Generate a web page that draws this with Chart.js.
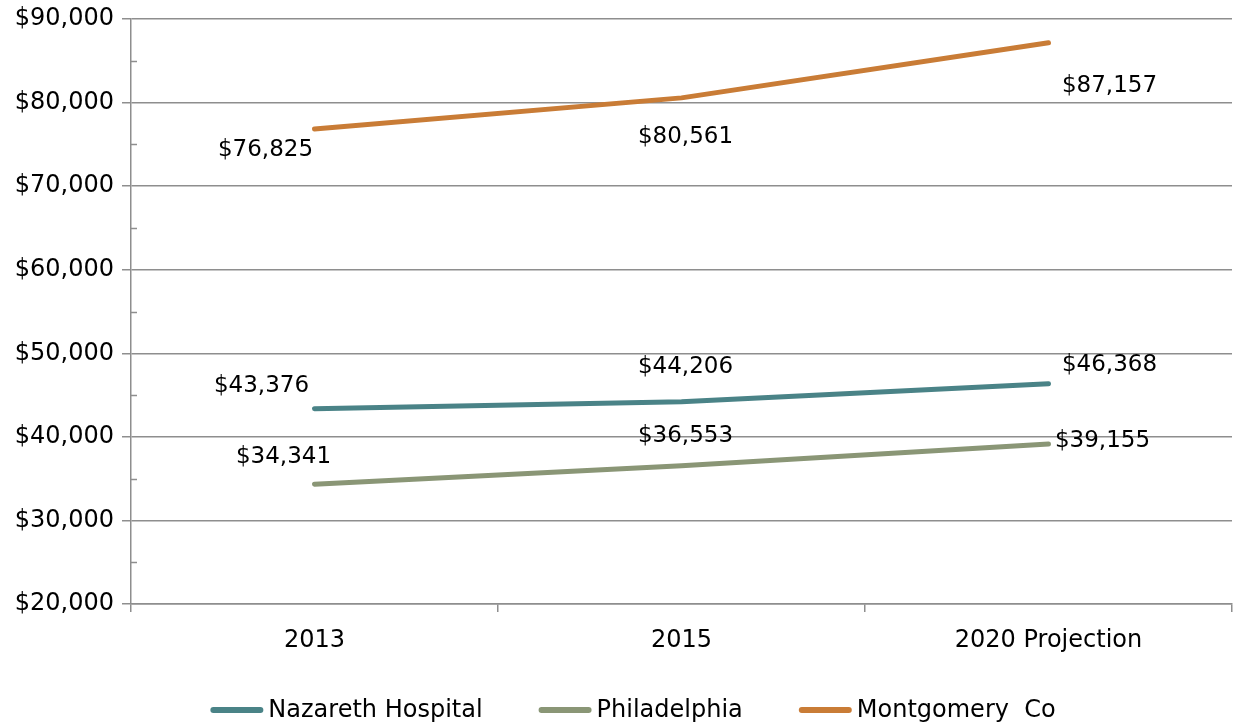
<!DOCTYPE html>
<html>
<head>
<meta charset="utf-8">
<script src="https://cdn.jsdelivr.net/npm/chart.js@4/dist/chart.umd.min.js"></script>
<style>
  html, body { margin: 0; padding: 0; background: #fff; }
  #wrap { width: 1237px; height: 725px; }
</style>
</head>
<body>
<div id="wrap"><canvas id="lChart"></canvas></div>
<script>
// Chart data
var years = ['2013', '2015', '2020 Projection'];
var nazareth = [43376, 44206, 46368];
var philadelphia = [34341, 36553, 39155];
var montgomery = [76825, 80561, 87157];
var seriesNames = ['Nazareth Hospital', 'Philadelphia', 'Montgomery  Co'];
var yTicks = [20000, 30000, 40000, 50000, 60000, 70000, 80000, 90000];

var fontFamily = '"DejaVu Sans", sans-serif';
var gridColor = '#8e8e8e';

// label nudges (px) relative to each point, per dataset
var labelOffsets = [
    [[-53, -23], [4, -35], [61, -19]],
    [[-31, -27], [4, -30], [54, -3]],
    [[-49, 21], [4, 39], [61, 43]]
];

function money(v) {
    return '$' + v.toLocaleString('en-US');
}

var valueLabels = {
    id: 'valueLabels',
    afterDatasetsDraw: function(chart) {
        var ctx = chart.ctx;
        ctx.save();
        ctx.font = '23px ' + fontFamily;
        ctx.fillStyle = '#000';
        ctx.textAlign = 'center';
        ctx.textBaseline = 'middle';
        chart.data.datasets.forEach(function(ds, i) {
            var meta = chart.getDatasetMeta(i);
            meta.data.forEach(function(pt, j) {
                var off = labelOffsets[i][j];
                ctx.fillText(money(ds.data[j]), pt.x + off[0], pt.y + off[1]);
            });
        });
        ctx.restore();
    }
};

// small inside ticks at the half steps
var minorTicks = {
    id: 'minorTicks',
    afterDraw: function(chart) {
        var y = chart.scales.y;
        var ctx = chart.ctx;
        var left = chart.chartArea.left;
        ctx.save();
        ctx.strokeStyle = gridColor;
        ctx.lineWidth = 1.5;
        for (var k = 0; k < yTicks.length - 1; k++) {
            var py = Math.round(y.getPixelForValue(yTicks[k] + 5000)) + 0.5;
            ctx.beginPath();
            ctx.moveTo(left, py);
            ctx.lineTo(left + 6, py);
            ctx.stroke();
        }
        ctx.restore();
    }
};

// legend drawn under the axis, line swatch + text
var bottomLegend = {
    id: 'bottomLegend',
    afterDraw: function(chart) {
        var ctx = chart.ctx;
        var sw = 53, gap = 5, itemGap = 56, yMid = 710;
        ctx.save();
        ctx.font = '24px ' + fontFamily;
        ctx.textBaseline = 'middle';
        ctx.textAlign = 'left';
        var widths = chart.data.datasets.map(function(ds) {
            return sw + gap + ctx.measureText(ds.label).width;
        });
        var total = widths.reduce(function(a, b) { return a + b; }, 0) + itemGap * (widths.length - 1);
        var x = 633 - total / 2;
        chart.data.datasets.forEach(function(ds, i) {
            ctx.strokeStyle = ds.borderColor;
            ctx.lineWidth = 6;
            ctx.lineCap = 'round';
            ctx.beginPath();
            ctx.moveTo(x + 3, yMid);
            ctx.lineTo(x + sw - 3, yMid);
            ctx.stroke();
            ctx.fillStyle = '#000';
            ctx.fillText(ds.label, x + sw + gap, yMid + 1);
            x += widths[i] + itemGap;
        });
        ctx.restore();
    }
};

var colors = ['#4a8387', '#8a9676', '#c97c36'];
var ctx = document.getElementById('lChart').getContext('2d');
var lChart = new Chart(ctx, {
    type: 'line',
    data: {
        labels: years,
        datasets: [nazareth, philadelphia, montgomery].map(function(d, i) {
            return {
                label: seriesNames[i],
                data: d,
                borderColor: colors[i],
                backgroundColor: colors[i],
                borderWidth: 5,
                borderCapStyle: 'round',
                borderJoinStyle: 'round',
                pointRadius: 0,
                tension: 0
            };
        })
    },
    options: {
        responsive: true,
        maintainAspectRatio: false,
        animation: false,
        layout: {
            padding: { left: 0, right: 5, top: 19, bottom: 45 }
        },
        plugins: {
            tooltip: { enabled: false },
            title: { display: false },
            legend: { display: false }
        },
        scales: {
            x: {
                offset: true,
                grid: {
                    offset: true,
                    drawOnChartArea: false,
                    color: gridColor,
                    lineWidth: 1.5,
                    tickLength: 8
                },
                border: { color: gridColor, width: 1.5 },
                ticks: {
                    font: { size: 24, family: fontFamily },
                    color: '#000',
                    padding: 14,
                    maxRotation: 0
                },
                afterFit: function(scale) {
                    scale.height = 76;
                }
            },
            y: {
                min: 20000,
                max: 90000,
                grid: {
                    color: gridColor,
                    lineWidth: 1.5,
                    tickLength: 9
                },
                border: { color: gridColor, width: 1.5 },
                ticks: {
                    stepSize: 10000,
                    font: { size: 24, family: fontFamily },
                    color: '#000',
                    padding: 8,
                    callback: function(value) {
                        return money(value);
                    }
                },
                afterFit: function(scale) {
                    scale.width = 131;
                    scale.paddingTop = 0;
                    scale.paddingBottom = 0;
                }
            }
        }
    },
    plugins: [valueLabels, minorTicks, bottomLegend]
});
</script>
</body>
</html>
